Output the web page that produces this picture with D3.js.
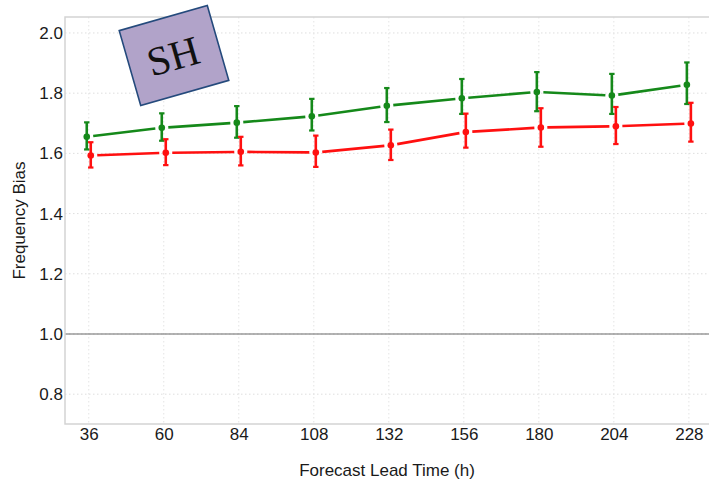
<!DOCTYPE html>
<html>
<head>
<meta charset="utf-8">
<script src="https://cdn.jsdelivr.net/npm/d3@7"></script>
<style>
  html, body { margin: 0; padding: 0; background: #fff; }
  svg { display: block; font-family: "Liberation Sans", Arial, Helvetica, sans-serif; }
</style>
</head>
<body>
<svg id="chart" width="709" height="480"></svg>
<script>
// Forecast lead times (hours)
const leadTimes = [36, 60, 84, 108, 132, 156, 180, 204, 228];

// Green series: mean frequency bias with lower/upper bounds
const greenMean  = [1.655, 1.685, 1.702, 1.723, 1.758, 1.783, 1.804, 1.792, 1.828];
const greenLower = [1.613, 1.642, 1.652, 1.676, 1.704, 1.731, 1.740, 1.731, 1.764];
const greenUpper = [1.703, 1.733, 1.757, 1.781, 1.817, 1.847, 1.870, 1.864, 1.902];

// Red series: mean frequency bias with lower/upper bounds
const redMean  = [1.593, 1.602, 1.605, 1.603, 1.627, 1.671, 1.686, 1.690, 1.699];
const redLower = [1.553, 1.561, 1.560, 1.555, 1.578, 1.619, 1.622, 1.631, 1.639];
const redUpper = [1.637, 1.647, 1.655, 1.659, 1.679, 1.732, 1.750, 1.754, 1.768];

const yTicks = [0.8, 1.0, 1.2, 1.4, 1.6, 1.8, 2.0];
const panelLabel = "SH";

const series = [
  { name: "green", color: "#15891a", mean: greenMean, lower: greenLower, upper: greenUpper, dodge: -2 },
  { name: "red",   color: "#ff1010", mean: redMean,   lower: redLower,   upper: redUpper,   dodge: 2 }
];

const svg = d3.select("#chart");
const plot = { left: 65, top: 17, right: 712, bottom: 424 };
const fontSize = 17;

const x = d3.scaleLinear().domain([28.4, 235.4]).range([plot.left, plot.right]);
const y = d3.scaleLinear().domain([0.701, 2.053]).range([plot.bottom, plot.top]);

// Dotted grid
const grid = svg.append("g");
grid.selectAll("line.gy").data(yTicks).join("line")
  .attr("x1", plot.left).attr("x2", plot.right)
  .attr("y1", d => y(d)).attr("y2", d => y(d))
  .attr("stroke", "#dedede").attr("stroke-width", 1).attr("stroke-dasharray", "1.5,2.5");
grid.selectAll("line.gx").data(leadTimes).join("line")
  .attr("x1", d => x(d)).attr("x2", d => x(d))
  .attr("y1", plot.top).attr("y2", plot.bottom)
  .attr("stroke", "#e4e4e4").attr("stroke-width", 1).attr("stroke-dasharray", "1.5,2.5");

// Reference line at bias = 1
svg.append("line")
  .attr("x1", plot.left).attr("x2", plot.right)
  .attr("y1", y(1.0)).attr("y2", y(1.0))
  .attr("stroke", "#6b6b6b").attr("stroke-width", 1.1);

// Panel frame (left, top, bottom)
svg.append("path")
  .attr("d", `M${plot.right},${plot.top}H${plot.left}V${plot.bottom}H${plot.right}`)
  .attr("fill", "none").attr("stroke", "#d4d4d4").attr("stroke-width", 1.5);

// Axes
const xAxis = d3.axisBottom(x).tickValues(leadTimes).tickSize(0).tickPadding(4);
const gx = svg.append("g").attr("transform", `translate(0,${plot.bottom})`).call(xAxis);
gx.select(".domain").remove();
gx.selectAll("text").attr("font-size", fontSize).attr("fill", "#1a1a1a")
  .attr("font-family", "'Liberation Sans', Arial, sans-serif");

const yAxis = d3.axisLeft(y).tickValues(yTicks).tickSize(0).tickPadding(2).tickFormat(d3.format(".1f"));
const gy = svg.append("g").attr("transform", `translate(${plot.left},0)`).call(yAxis);
gy.select(".domain").remove();
gy.selectAll("text").attr("font-size", fontSize).attr("fill", "#1a1a1a")
  .attr("font-family", "'Liberation Sans', Arial, sans-serif");

// Axis titles
svg.append("text")
  .attr("x", (plot.left + 709) / 2).attr("y", 476)
  .attr("text-anchor", "middle").attr("font-size", fontSize).attr("fill", "#1a1a1a")
  .text("Forecast Lead Time (h)");
svg.append("text")
  .attr("transform", `translate(25,${(plot.top + plot.bottom) / 2}) rotate(-90)`)
  .attr("text-anchor", "middle").attr("font-size", fontSize).attr("fill", "#1a1a1a")
  .text("Frequency Bias");

// Series: connecting segments with small gaps around points, error bars, points
const gap = 6.5;
series.forEach(s => {
  const pts = leadTimes.map((t, i) => ({ px: x(t) + s.dodge, py: y(s.mean[i]), lo: y(s.lower[i]), hi: y(s.upper[i]) }));
  const g = svg.append("g");
  const segs = d3.pairs(pts).map(([a, b]) => {
    const dx = b.px - a.px, dy = b.py - a.py, len = Math.hypot(dx, dy);
    const ux = dx / len, uy = dy / len;
    return { x1: a.px + ux * gap, y1: a.py + uy * gap, x2: b.px - ux * gap, y2: b.py - uy * gap };
  });
  g.selectAll("line.seg").data(segs).join("line")
    .attr("x1", d => d.x1).attr("y1", d => d.y1).attr("x2", d => d.x2).attr("y2", d => d.y2)
    .attr("stroke", s.color).attr("stroke-width", 2.6);
  g.selectAll("line.err").data(pts).join("line")
    .attr("x1", d => d.px).attr("x2", d => d.px).attr("y1", d => d.lo).attr("y2", d => d.hi)
    .attr("stroke", s.color).attr("stroke-width", 2.6);
  const caps = pts.flatMap(d => [d.lo, d.hi].map(v => ({ px: d.px, v })));
  g.selectAll("line.cap").data(caps).join("line")
    .attr("x1", d => d.px - 2.7).attr("x2", d => d.px + 2.7).attr("y1", d => d.v).attr("y2", d => d.v)
    .attr("stroke", s.color).attr("stroke-width", 2.2);
  g.selectAll("circle").data(pts).join("circle")
    .attr("cx", d => d.px).attr("cy", d => d.py).attr("r", 3.3).attr("fill", s.color);
});

// Tilted panel label
const label = svg.append("g").attr("transform", "translate(174,55.5) rotate(-16)");
label.append("rect")
  .attr("x", -45.8).attr("y", -39).attr("width", 91.6).attr("height", 78)
  .attr("fill", "#b1a3c9").attr("stroke", "#244a7c").attr("stroke-width", 1.6);
label.append("text")
  .attr("x", -1).attr("y", 0).attr("dy", "0.35em")
  .attr("text-anchor", "middle").attr("font-size", 41)
  .attr("font-family", "'Liberation Serif', 'Times New Roman', serif").attr("fill", "#111")
  .text(panelLabel);
</script>
</body>
</html>
